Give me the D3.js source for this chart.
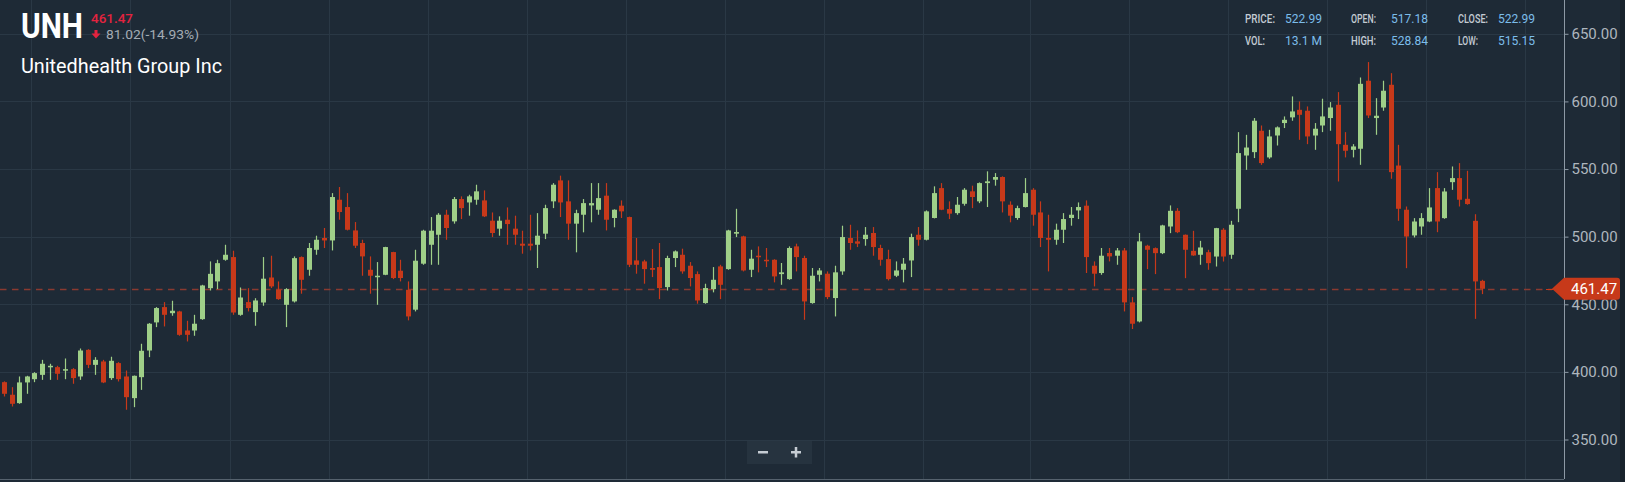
<!DOCTYPE html>
<html>
<head>
<meta charset="utf-8">
<script src="https://cdn.jsdelivr.net/npm/d3@7"></script>
<style>
  html, body { margin: 0; padding: 0; background: #1e2a36; overflow: hidden; }
  svg { display: block; font-family: Roboto, 'Noto Sans', sans-serif; }
</style>
</head>
<body>
<div id="chart"></div>
<script>
// daily OHLC, oldest first
const opens = [
  392.4, 383.1, 376.9, 392.2, 394.6, 397.8, 403.5, 403.5, 401, 402,
  396.6, 416.3, 405.2, 407.7, 395.4, 406.5, 396.6, 380.6, 396.1, 415.8,
  436.6, 447.9, 443.4, 444.7, 430.6, 430.6, 439, 461.9, 466.9, 482.9,
  484.9, 442.2, 451.6, 444.2, 451.3, 469.8, 460.7, 449.6, 452.1, 484.9,
  475.5, 490.3, 499, 497.2, 527.3, 521.9, 504.6, 495.3, 475.5, 470.1,
  471.8, 488.6, 474.8, 460.7, 446, 480, 494, 501.4, 516.2, 511.3,
  527.8, 525.3, 527.3, 526.8, 511.8, 505.9, 512.5, 505.9, 494.8, 494.8,
  494, 502.2, 526.1, 541.6, 526.1, 509.6, 516.2, 523.1, 519.9, 530.3,
  513.8, 522.9, 514.5, 482.4, 481.7, 476.8, 477.5, 462.7, 484.2, 486.6,
  478.5, 472.3, 450.9, 461.2, 478, 476, 502.2, 500.2, 475.5, 485.9,
  482.9, 482.9, 472.3, 468.6, 492.8, 484.2, 450.9, 471.8, 472.6, 454.6,
  474.3, 499, 496.5, 498.2, 502.7, 491.6, 483.4, 471.1, 475.5, 482.4,
  501.4, 497.7, 513.8, 535.9, 520.4, 517.4, 524.3, 533.5, 526.1, 539.6,
  542.1, 544.1, 523.6, 513.8, 521.9, 534.7, 517.9, 499, 497.7, 505.1,
  513.8, 519.4, 522.9, 478.5, 473.1, 487.9, 485.9, 489.8, 451.4, 437.3,
  493.3, 491.5, 487.8, 507.5, 519.1, 501.4, 489.5, 486.6, 488.5, 485.3,
  505.1, 486.6, 520.6, 560, 562.5, 578.3, 558.6, 574.8, 584, 588.2,
  593.8, 593.1, 574.8, 582.2, 587.7, 597.5, 567.9, 564.2, 565, 615.3,
  587.7, 595.5, 612.3, 552.6, 519.9, 500.9, 507.5, 511.2, 535.9, 513.7,
  540.3, 543.3, 528, 511.7, 467.3
]
const highs = [
  393, 388.7, 396.6, 397.1, 399.8, 408.9, 406, 404.5, 409.9, 402.8,
  417.3, 416.8, 410.9, 408.9, 411.2, 407.2, 401, 397.3, 420.8, 436.1,
  447.9, 451.6, 452.6, 445.2, 437.8, 442.2, 464.4, 481.7, 482.9, 494,
  489.6, 462.4, 461.9, 454.5, 484.9, 485.9, 466.9, 461.9, 485.4, 485.4,
  495.3, 500.7, 506.4, 532.2, 536.7, 532.2, 510.8, 497.7, 485.4, 481.2,
  492.5, 488.8, 482.9, 466.9, 490.3, 505.1, 514.5, 517.4, 519.9, 529.3,
  529.8, 531, 538.4, 534.2, 517.9, 515, 521.6, 515.5, 504.4, 516.2,
  517.4, 523.6, 539.6, 545.1, 541.6, 519.9, 527.8, 539.6, 539.6, 539.6,
  520.2, 526.8, 514.8, 499, 482.9, 490.8, 495.3, 485.9, 489.8, 491.1,
  481.2, 474.3, 465.2, 477.5, 479.2, 505.1, 520.6, 500.7, 490.3, 492.8,
  491.6, 483.3, 480.5, 492.8, 494.8, 485.9, 476.8, 476.8, 474.3, 478.5,
  508.1, 508.8, 504.6, 507.1, 507.1, 494, 490.3, 481.7, 484.2, 502.2,
  507.1, 519.4, 537.2, 539.6, 526.1, 529.3, 535.9, 537.7, 540.1, 548.3,
  547, 544.6, 526.1, 522.9, 543.3, 535.9, 526.1, 516.2, 509.6, 517.4,
  521.9, 525.3, 526.8, 481.7, 491.6, 491.6, 491.6, 491.6, 455.3, 502.7,
  494, 492, 508.8, 523.1, 521.1, 501.6, 504.3, 496.9, 490.3, 506.5,
  506.3, 511.7, 577.3, 575.3, 587.7, 582.2, 579, 581.5, 588.9, 603.7,
  600, 596.3, 584, 602, 599.5, 606.9, 577.3, 568.4, 617.7, 629.1,
  602.4, 615.3, 620.9, 567.9, 522.3, 513.7, 517.4, 535.9, 547.7, 535.9,
  551.9, 554.4, 548.7, 516.6, 468.1
]
const lows = [
  381.8, 374.4, 376.4, 383.8, 392.4, 394.1, 394.1, 394.1, 394.6, 391.2,
  394.1, 402.8, 397.8, 391.7, 394.1, 392.9, 372, 373.9, 386.7, 410.9,
  433.1, 433.6, 441.5, 426.7, 422.5, 426.7, 438.5, 460.2, 461.2, 482.2,
  442.2, 441.5, 444.7, 434.1, 448.9, 462, 453.3, 433.1, 451.3, 457.8,
  471.1, 486.6, 491.6, 489.8, 512.5, 504.6, 491.6, 471.1, 457.8, 449.6,
  471.5, 468.6, 466.9, 438.1, 444.7, 479.2, 479.2, 479.2, 497.7, 509.6,
  513, 515.5, 523.6, 514.5, 499.7, 500.7, 494, 494, 487.4, 489.8,
  476.8, 498.2, 521.1, 514.5, 497.7, 488.4, 503.2, 510.6, 516.2, 504.6,
  506.9, 513.8, 477.5, 472.6, 465.2, 470.1, 453.8, 460.2, 477.5, 472.6,
  463.2, 450.4, 450.4, 458.8, 453.8, 475.5, 499.7, 474.3, 470.1, 473.6,
  477.5, 466.2, 464.4, 468.1, 474.3, 438.5, 450.4, 466.9, 453.8, 441,
  471.8, 490.3, 492.3, 493.3, 485.9, 478.5, 467.6, 470.1, 466.2, 470.1,
  493.3, 497.2, 513.5, 519.6, 513, 516.2, 522.9, 521.1, 524.8, 521.9,
  537.7, 517.9, 510.6, 512.5, 521.6, 508.1, 492.3, 474.3, 494, 495.3,
  508.1, 513, 473.1, 463.2, 471.8, 481.7, 479.2, 444.7, 431.7, 436.6,
  476, 472.3, 487.1, 502.6, 502.6, 469.3, 485.8, 479.2, 475.5, 477.9,
  481.6, 483.6, 510.7, 549.4, 558.1, 553.1, 557.6, 567.4, 580.3, 585.7,
  571.6, 568.4, 564.2, 577.3, 578.3, 540.8, 558.6, 558.6, 553.1, 587.7,
  575.3, 593.1, 542.8, 511.7, 476.7, 499.4, 501.4, 510.7, 503.3, 513.2,
  534.6, 522.3, 523.6, 439.2, 457.5
]
const closes = [
  383.8, 376.4, 392.2, 396.6, 399.1, 406, 404.5, 398.6, 402, 395.4,
  415.8, 405.2, 408.9, 392.2, 408.2, 394.6, 381.3, 397.1, 415.6, 435.6,
  447.2, 442.2, 445.2, 427.4, 427.4, 435.6, 463.9, 472.5, 480.4, 486.6,
  443.9, 455, 447.2, 452.8, 468.9, 463.2, 453.8, 461.2, 484.1, 468.1,
  491.6, 497.7, 497.2, 529.3, 518.2, 505.1, 493.3, 485.4, 471.1, 471.1,
  492.3, 469.4, 469.4, 441, 482.2, 504.4, 504.4, 516.2, 506.4, 527.8,
  521.1, 529.8, 533.5, 515, 502.7, 511.8, 509.3, 501.4, 493.3, 493.3,
  500.7, 521.1, 538.4, 525.3, 509.6, 517.4, 524.8, 524.8, 528.5, 512.5,
  519.9, 518.7, 479.2, 479.2, 476, 475.5, 462, 484.2, 489.1, 474.3,
  469.4, 452.8, 462, 468.1, 464.4, 504.6, 503.4, 475, 483.7, 484.9,
  482.4, 470.6, 473.6, 491.6, 484.9, 452.1, 471.1, 475, 455.3, 473.6,
  499.7, 495.3, 494.8, 501.4, 492.3, 482.9, 468.6, 475, 480, 499.7,
  497.7, 518.7, 532.2, 519.9, 517, 523.6, 534.7, 529.3, 539.6, 540.9,
  544.1, 526.1, 515.5, 521.1, 532.2, 516.2, 499, 497.7, 505.1, 513,
  516.2, 521.9, 484.9, 472.6, 485.9, 485.4, 489.8, 451.4, 435.6, 496.5,
  490.3, 487.8, 508.3, 519.1, 503.3, 490.3, 486.1, 492, 480.4, 506.3,
  485.3, 508.8, 561.8, 565.9, 585.7, 554.4, 574.1, 580.8, 586.4, 592.6,
  590.1, 574.1, 579.8, 588.9, 595.5, 568.4, 563.5, 566.7, 613, 589.6,
  589.4, 607.9, 547.7, 520.6, 500.1, 511.2, 513.7, 521.6, 511.2, 533.4,
  543.3, 527.3, 524.1, 466.9, 461.47
]

// candle index where each vertical grid period starts
const gridStarts = [4, 17, 30, 43, 56, 69, 82, 95, 108, 121, 135, 148, 161, 174, 187, 200]
const yTicks = [350, 400, 450, 500, 550, 600, 650]

const ticker = 'UNH'
const companyName = 'Unitedhealth Group Inc'
const lastPrice = '461.47'
const changeText = '81.02(-14.93%)'
const infoLabels = ['PRICE:', 'OPEN:', 'CLOSE:', 'VOL:', 'HIGH:', 'LOW:']
const infoValues = ['522.99', '517.18', '522.99', '13.1 M', '528.84', '515.15']

const width = 1625
const height = 482
const axisX = 1564
const plotBottom = 479
const step = 7.62

const upColor = '#9fcf88'
const downColor = '#c7391a'

const candles = closes.map((c, i) => ({
  i,
  open: opens[i],
  high: highs[i],
  low: lows[i],
  close: c
}))

const x = d3.scaleLinear()
  .domain([0, candles.length - 1])
  .range([4, 4 + (candles.length - 1) * step])

const y = d3.scaleLinear()
  .domain([350, 650])
  .range([439.5, 33.8])

const svg = d3.select('#chart')
  .append('svg')
  .attr('width', width)
  .attr('height', height)

svg.append('rect')
  .attr('width', width)
  .attr('height', height)
  .attr('fill', '#1e2a36')

svg.append('rect')
  .attr('x', 1620)
  .attr('width', width - 1620)
  .attr('height', height)
  .attr('fill', '#18222c')

// grid
svg.append('g')
  .selectAll('line')
  .data(yTicks)
  .enter()
  .append('line')
  .attr('x1', 0)
  .attr('x2', axisX)
  .attr('y1', (d) => Math.round(y(d)) + 0.5)
  .attr('y2', (d) => Math.round(y(d)) + 0.5)
  .attr('stroke', '#2a3845')

svg.append('g')
  .selectAll('line')
  .data(gridStarts)
  .enter()
  .append('line')
  .attr('x1', (d) => Math.round(x(d - 0.4)) + 0.5)
  .attr('x2', (d) => Math.round(x(d - 0.4)) + 0.5)
  .attr('y1', 0)
  .attr('y2', plotBottom)
  .attr('stroke', '#2a3845')

// header
const header = svg.append('g')

header.append('text')
  .attr('x', 21)
  .attr('y', 38)
  .attr('font-size', 35)
  .attr('font-weight', 700)
  .attr('fill', '#ffffff')
  .attr('textLength', 62)
  .attr('lengthAdjust', 'spacingAndGlyphs')
  .text(ticker)

header.append('text')
  .attr('x', 91)
  .attr('y', 23)
  .attr('font-size', 13.5)
  .attr('font-weight', 500)
  .attr('fill', '#e3233f')
  .attr('textLength', 42)
  .attr('lengthAdjust', 'spacingAndGlyphs')
  .text(lastPrice)

header.append('path')
  .attr('d', 'M94.5,30 h3 v3.5 h3 l-4.5,5 l-4.5,-5 h3 z')
  .attr('fill', '#e3233f')

header.append('text')
  .attr('x', 106)
  .attr('y', 39)
  .attr('font-size', 13.5)
  .attr('fill', '#a4acb4')
  .attr('textLength', 93)
  .attr('lengthAdjust', 'spacingAndGlyphs')
  .text(changeText)

header.append('text')
  .attr('x', 21)
  .attr('y', 72.5)
  .attr('font-size', 21)
  .attr('fill', '#ffffff')
  .attr('textLength', 201)
  .attr('lengthAdjust', 'spacingAndGlyphs')
  .text(companyName)

// info panel
const labelX = [1245, 1351, 1458]
const valueRight = [1322, 1428, 1535]
const rowY = [23, 45]

const info = svg.append('g')
infoLabels.forEach((label, k) => {
  const col = k % 3
  const row = Math.floor(k / 3)
  info.append('text')
    .attr('x', labelX[col])
    .attr('y', rowY[row])
    .attr('font-size', 12)
    .attr('font-weight', 500)
    .attr('fill', '#c3cbd3')
    .attr('textLength', label.length * 5)
    .attr('lengthAdjust', 'spacingAndGlyphs')
    .text(label)
  info.append('text')
    .attr('x', valueRight[col])
    .attr('y', rowY[row])
    .attr('text-anchor', 'end')
    .attr('font-size', 13)
    .attr('fill', '#7cbdea')
    .attr('textLength', 37)
    .attr('lengthAdjust', 'spacingAndGlyphs')
    .text(infoValues[k])
})

// last price line
const lastY = Math.round(y(closes[closes.length - 1])) + 0.5
svg.append('line')
  .attr('x1', 0)
  .attr('x2', 1552)
  .attr('y1', lastY)
  .attr('y2', lastY)
  .attr('stroke', '#8a3a30')
  .attr('stroke-width', 1.3)
  .attr('stroke-dasharray', '6.5,5.5')

// candles
const candleG = svg.append('g')

candleG.selectAll('line')
  .data(candles)
  .enter()
  .append('line')
  .attr('x1', (d) => Math.round(x(d.i)) + 0.5)
  .attr('x2', (d) => Math.round(x(d.i)) + 0.5)
  .attr('y1', (d) => y(d.high))
  .attr('y2', (d) => y(d.low))
  .attr('stroke', (d) => (d.close >= d.open ? upColor : downColor))
  .attr('stroke-width', 1.2)

candleG.selectAll('rect')
  .data(candles)
  .enter()
  .append('rect')
  .attr('x', (d) => Math.round(x(d.i)) - 2)
  .attr('width', 5)
  .attr('y', (d) => y(Math.max(d.open, d.close)))
  .attr('height', (d) => Math.max(1.5, Math.abs(y(d.open) - y(d.close))))
  .attr('fill', (d) => (d.close >= d.open ? upColor : downColor))

// y axis
svg.append('line')
  .attr('x1', axisX + 0.5)
  .attr('x2', axisX + 0.5)
  .attr('y1', 0)
  .attr('y2', plotBottom)
  .attr('stroke', '#8d99a5')

svg.append('line')
  .attr('x1', 0)
  .attr('x2', axisX)
  .attr('y1', plotBottom + 0.5)
  .attr('y2', plotBottom + 0.5)
  .attr('stroke', '#56626e')

const yAxis = svg.append('g')
  .attr('transform', `translate(${axisX + 0.5}, 0)`)
  .call(d3.axisRight(y).tickValues(yTicks).tickSize(4).tickPadding(3).tickFormat(d3.format('.2f')))

yAxis.select('.domain').remove()
yAxis.selectAll('.tick line').attr('stroke', '#8d99a5')
yAxis.selectAll('.tick text')
  .attr('fill', '#aeb6be')
  .attr('font-size', 15)
  .attr('font-family', 'Roboto, sans-serif')

// price tag
const tagY = y(closes[closes.length - 1])
const tag = svg.append('g')
tag.append('line')
  .attr('x1', 1546)
  .attr('x2', 1553)
  .attr('y1', lastY)
  .attr('y2', lastY)
  .attr('stroke', '#c7391a')
tag.append('path')
  .attr('d', `M1552,${tagY} L1564,${tagY - 11} H1617 Q1620,${tagY - 11} 1620,${tagY - 8} V${tagY + 8} Q1620,${tagY + 11} 1617,${tagY + 11} H1564 Z`)
  .attr('fill', '#c7391a')
tag.append('text')
  .attr('x', 1571)
  .attr('y', tagY + 5.5)
  .attr('font-size', 15)
  .attr('fill', '#ffffff')
  .text(lastPrice)

// zoom control
const zoomCtl = svg.append('g')
zoomCtl.append('rect')
  .attr('x', 747)
  .attr('y', 441)
  .attr('width', 65)
  .attr('height', 23)
  .attr('fill', '#26333f')
zoomCtl.append('rect')
  .attr('x', 763 - 5)
  .attr('y', 451)
  .attr('width', 10)
  .attr('height', 2.5)
  .attr('fill', '#c5ccd3')
zoomCtl.append('rect')
  .attr('x', 796 - 5)
  .attr('y', 451)
  .attr('width', 10)
  .attr('height', 2.5)
  .attr('fill', '#c5ccd3')
zoomCtl.append('rect')
  .attr('x', 796 - 1.25)
  .attr('y', 447)
  .attr('width', 2.5)
  .attr('height', 10.5)
  .attr('fill', '#c5ccd3')
</script>
</body>
</html>
